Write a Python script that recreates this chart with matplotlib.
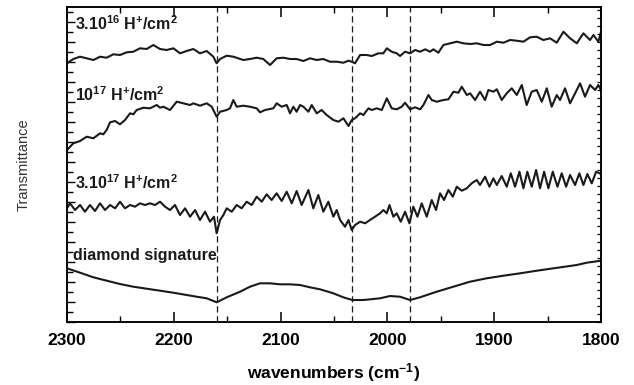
import matplotlib
matplotlib.use("Agg")
import matplotlib.pyplot as plt
from matplotlib.ticker import MultipleLocator

plt.rcParams["font.family"] = ["Liberation Sans", "DejaVu Sans"]
plt.rcParams["mathtext.fontset"] = "custom"
plt.rcParams["mathtext.rm"] = "Liberation Sans:bold"
plt.rcParams["mathtext.it"] = "Liberation Sans:bold"
plt.rcParams["mathtext.bf"] = "Liberation Sans:bold"

# IR transmittance spectra (offset, arbitrary units) vs wavenumber (cm^-1)
wn_3e16 = [2300, 2294.1, 2287.8, 2281.6, 2275.3, 2269.1, 2262.9, 2256.6, 2250.4, 2244.1,
           2237.9, 2231.7, 2225.4, 2219.2, 2212.9, 2206.7, 2200.4, 2194.2, 2188.0, 2181.7,
           2175.5, 2169.2, 2163.0, 2159.9, 2156.7, 2150.5, 2144.3, 2134.9, 2128.7, 2122.4,
           2116.2, 2109.9, 2103.7, 2097.4, 2091.2, 2085.0, 2078.7, 2072.5, 2066.2, 2060.0,
           2053.8, 2047.5, 2041.2, 2036.5, 2033.4, 2030.3, 2025.6, 2019.4, 2014.7, 2008.4,
           2003.8, 2000.6, 1996.0, 1991.3, 1988.2, 1983.5, 1978.8, 1974.1, 1969.4, 1964.7,
           1960.1, 1956.9, 1952.3, 1947.6, 1941.3, 1935.1, 1928.9, 1922.6, 1916.4, 1910.1,
           1903.9, 1897.6, 1891.4, 1885.2, 1878.9, 1872.7, 1866.4, 1860.2, 1854.0, 1847.7,
           1841.5, 1835.2, 1829.0, 1822.7, 1816.5, 1810.3, 1807.1, 1802.5, 1800]
tr_3e16 = [258.7, 263.0, 265.3, 263.7, 262.0, 265.3, 264.3, 267.7, 267.0, 269.7,
           270.3, 273.7, 273.0, 277.0, 273.0, 272.0, 273.7, 268.7, 271.0, 273.0,
           268.7, 271.0, 265.3, 258.7, 263.0, 266.3, 265.3, 262.0, 263.0, 264.3,
           263.0, 257.0, 263.7, 264.3, 263.0, 263.0, 261.0, 263.7, 262.0, 263.0,
           260.3, 260.3, 259.3, 261.3, 260.3, 258.7, 267.0, 267.0, 266.0, 268.7,
           268.7, 273.7, 270.3, 268.7, 266.0, 270.3, 268.7, 272.0, 270.3, 272.7,
           270.3, 272.7, 269.3, 277.0, 278.7, 280.3, 278.7, 278.0, 278.7, 277.0,
           277.0, 280.3, 279.3, 282.0, 281.3, 280.3, 284.7, 285.3, 282.0, 283.7,
           279.3, 290.3, 283.7, 278.7, 288.7, 282.0, 287.0, 280.3, 290.3]

wn_1e17 = [2300, 2294.1, 2287.8, 2281.6, 2275.3, 2269.1, 2266.0, 2262.9, 2259.7, 2255.0,
           2250.4, 2245.7, 2241.0, 2237.9, 2234.8, 2228.5, 2222.3, 2216.0, 2212.9, 2209.8,
           2203.6, 2197.3, 2191.1, 2184.8, 2181.7, 2175.5, 2169.2, 2164.5, 2159.9, 2156.7,
           2150.5, 2147.4, 2144.3, 2141.1, 2134.9, 2128.7, 2122.4, 2119.3, 2114.6, 2106.8,
           2103.7, 2099.0, 2094.3, 2091.2, 2088.1, 2085.0, 2081.8, 2078.7, 2074.0, 2070.9,
           2066.2, 2061.6, 2056.9, 2050.6, 2045.9, 2041.2, 2036.5, 2033.4, 2030.3, 2025.6,
           2022.5, 2017.8, 2014.7, 2010.0, 2005.3, 2000.6, 1996.0, 1991.3, 1986.6, 1983.5,
           1978.8, 1974.1, 1969.4, 1966.3, 1961.6, 1958.5, 1953.8, 1947.6, 1942.9, 1938.2,
           1933.5, 1930.4, 1925.7, 1922.6, 1917.9, 1913.3, 1908.6, 1905.5, 1900.8, 1897.6,
           1893.0, 1888.3, 1883.6, 1878.9, 1874.2, 1869.6, 1864.9, 1860.2, 1855.5, 1850.8,
           1846.2, 1841.5, 1838.4, 1833.7, 1829.0, 1824.3, 1819.6, 1815.0, 1810.3, 1805.6,
           1802.5, 1800]
tr_1e17 = [172.0, 178.7, 181.0, 185.3, 183.7, 188.7, 187.7, 192.0, 199.7, 201.0,
           197.7, 202.0, 208.7, 207.7, 212.0, 214.3, 213.7, 217.0, 214.3, 215.3,
           212.0, 220.3, 218.7, 217.0, 218.7, 216.3, 218.7, 215.3, 205.3, 210.3,
           212.0, 213.7, 222.0, 215.3, 216.3, 215.3, 213.7, 209.7, 212.0, 213.7,
           218.7, 215.3, 217.0, 208.7, 215.3, 210.3, 217.0, 215.3, 210.3, 217.0,
           208.7, 212.0, 207.0, 202.0, 200.3, 203.7, 196.0, 202.0, 203.7, 208.7,
           207.0, 213.7, 212.0, 213.7, 212.0, 223.7, 213.7, 212.7, 215.3, 219.3,
           212.7, 214.7, 212.7, 217.0, 227.0, 222.0, 220.3, 222.0, 222.7, 230.3,
           229.3, 235.3, 227.0, 228.7, 222.0, 230.3, 222.0, 232.0, 230.3, 232.7,
           222.0, 228.7, 233.7, 227.0, 237.0, 217.0, 230.3, 232.0, 220.3, 233.7,
           215.3, 227.0, 222.0, 233.7, 218.7, 228.7, 238.7, 225.3, 237.0, 232.0,
           237.0, 232.0]

wn_3e17 = [2300, 2297.2, 2292.5, 2287.8, 2283.2, 2278.5, 2273.8, 2269.1, 2264.4, 2259.7,
           2255.0, 2250.4, 2245.7, 2241.0, 2236.3, 2231.7, 2227.0, 2222.3, 2217.6, 2212.9,
           2208.2, 2203.6, 2198.9, 2194.2, 2189.5, 2184.8, 2180.1, 2175.5, 2170.8, 2166.1,
           2162.4, 2159.9, 2156.7, 2153.6, 2150.5, 2145.8, 2141.1, 2136.5, 2131.8, 2127.1,
           2122.4, 2117.7, 2113.1, 2108.4, 2103.7, 2099.0, 2094.3, 2089.6, 2085.0, 2080.3,
           2074.0, 2069.4, 2064.7, 2060.0, 2055.3, 2050.6, 2047.5, 2044.3, 2039.7, 2036.5,
           2033.4, 2030.3, 2025.6, 2020.9, 2016.3, 2011.6, 2006.9, 2003.8, 2000.6, 1998.1,
           1994.4, 1991.3, 1987.5, 1983.5, 1979.4, 1975.7, 1971.9, 1967.9, 1963.2, 1958.5,
           1954.5, 1950.7, 1947.0, 1942.9, 1938.8, 1935.1, 1930.4, 1925.7, 1921.1, 1916.4,
           1913.3, 1908.6, 1904.5, 1900.8, 1897.6, 1893.0, 1888.3, 1884.5, 1880.5, 1876.4,
           1872.7, 1869.0, 1864.9, 1860.8, 1857.1, 1853.3, 1849.3, 1845.2, 1840.8, 1836.8,
           1832.7, 1829.0, 1824.3, 1820.3, 1816.5, 1812.8, 1808.7, 1804.6, 1800]
tr_3e17 = [113.7, 118.7, 112.0, 117.0, 110.3, 117.0, 111.0, 118.7, 112.0, 117.0,
           113.7, 120.3, 113.7, 117.0, 115.3, 118.7, 117.0, 118.7, 117.0, 120.3,
           115.3, 112.0, 117.0, 107.0, 113.7, 105.3, 112.0, 102.0, 110.3, 100.3,
           105.3, 88.7, 102.0, 107.0, 113.7, 110.3, 117.0, 113.7, 120.3, 117.0,
           125.3, 120.3, 127.7, 122.0, 128.7, 121.0, 130.3, 118.7, 131.0, 117.0,
           132.0, 113.7, 127.0, 110.3, 120.3, 105.3, 112.0, 102.0, 95.3, 102.0,
           92.0, 97.0, 100.3, 98.7, 102.0, 105.3, 108.7, 112.0, 108.7, 117.0,
           105.3, 108.7, 100.3, 110.3, 98.7, 115.3, 105.3, 118.7, 105.3, 122.0,
           112.0, 128.7, 122.0, 132.0, 125.3, 135.3, 131.3, 133.7, 138.7, 142.0,
           137.0, 145.3, 135.3, 143.7, 137.0, 146.0, 135.3, 148.7, 135.3, 150.3,
           133.7, 150.3, 135.3, 152.0, 133.7, 150.3, 133.7, 150.3, 135.3, 148.7,
           135.3, 147.0, 137.0, 148.7, 137.0, 148.0, 138.7, 150.3, 148.0]

wn_diamond = [2300, 2287.8, 2275.3, 2262.8, 2250.4, 2237.9, 2225.4, 2212.9, 2200.5, 2187.9,
              2178.6, 2169.2, 2159.8, 2150.5, 2138.0, 2128.7, 2119.3, 2109.9, 2100.6, 2091.2,
              2081.8, 2072.5, 2063.1, 2050.6, 2041.3, 2032.8, 2022.5, 2006.9, 1997.6, 1988.2,
              1978.8, 1969.5, 1953.9, 1938.3, 1922.7, 1907.1, 1891.4, 1875.8, 1860.2, 1844.6,
              1822.8, 1813.4, 1800]
tr_diamond = [53.7, 49.3, 44.7, 41.3, 38.0, 35.3, 33.3, 31.3, 29.3, 27.0,
              25.3, 23.7, 19.7, 24.7, 30.3, 35.3, 38.7, 38.7, 37.7, 37.7,
              37.0, 34.7, 32.7, 28.7, 24.7, 22.0, 22.0, 23.7, 26.0, 25.3,
              22.0, 24.7, 30.3, 35.3, 40.3, 43.7, 46.3, 48.7, 51.3, 53.7,
              57.0, 59.3, 61.3]

band_positions = [2160, 2033, 1979]

labels = ["3.10$^{16}$ H$^{+}$/cm$^{2}$", "10$^{17}$ H$^{+}$/cm$^{2}$",
          "3.10$^{17}$ H$^{+}$/cm$^{2}$", "diamond signature"]
label_y = [292, 221, 133, 62]

fig = plt.figure(figsize=(6.34, 3.85), dpi=100)
ax = fig.add_axes([0.1057, 0.1636, 0.8423, 0.8182])

for wn, tr in [(wn_3e16, tr_3e16), (wn_1e17, tr_1e17), (wn_3e17, tr_3e17),
               (wn_diamond, tr_diamond)]:
    ax.plot(wn, tr, color="#1a1a1a", lw=1.5, solid_joinstyle="round")

for b in band_positions:
    ax.axvline(b, color="#1a1a1a", lw=0.9, linestyle=(0, (5, 3)))

for text, y in zip(labels, label_y):
    x = 2294.7 if text.startswith("diamond") else 2292.5
    ax.text(x, y, text, fontsize=11.5, fontweight="bold", va="baseline",
            ha="left", color="#1a1a1a")

ax.set_xlim(2300, 1800)
ax.set_ylim(0, 315)
ax.xaxis.set_major_locator(MultipleLocator(100))
ax.xaxis.set_minor_locator(MultipleLocator(50))
ax.yaxis.set_major_locator(MultipleLocator(20))
ax.yaxis.set_minor_locator(MultipleLocator(10))
ax.tick_params(axis="x", which="major", direction="in", length=7, width=1.1,
               top=True, labelsize=12.5, pad=8)
ax.tick_params(axis="x", which="minor", direction="in", length=4, width=1.0, top=True)
ax.tick_params(axis="y", which="major", direction="in", length=6, width=1.0,
               labelleft=False)
ax.tick_params(axis="y", which="minor", direction="in", length=4, width=1.0)
for lab in ax.get_xticklabels():
    lab.set_fontweight("bold")

ax2 = ax.twinx()
ax2.set_ylim(0, 315)
ax2.yaxis.set_major_locator(MultipleLocator(8))
ax2.tick_params(axis="y", direction="in", length=3, width=0.9, labelright=False)

for a in (ax, ax2):
    for s in a.spines.values():
        s.set_linewidth(1.1)

ax.set_xlabel("wavenumbers (cm$^{-1}$)", fontsize=12.5, fontweight="bold", labelpad=9)
ax.set_ylabel("Transmittance", fontsize=10.5, labelpad=26, color="#333333")

fig.savefig("out.png", dpi=100)
